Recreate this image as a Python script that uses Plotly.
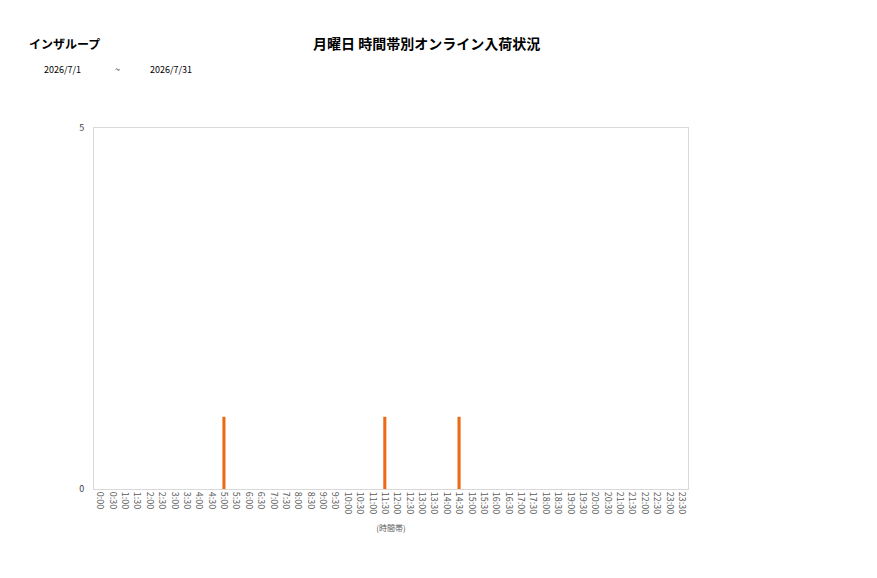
import plotly.graph_objects as go

# 時間帯 (30分刻み)
time_slots = [
    "0:00", "0:30", "1:00", "1:30", "2:00", "2:30", "3:00", "3:30",
    "4:00", "4:30", "5:00", "5:30", "6:00", "6:30", "7:00", "7:30",
    "8:00", "8:30", "9:00", "9:30", "10:00", "10:30", "11:00", "11:30",
    "12:00", "12:30", "13:00", "13:30", "14:00", "14:30", "15:00", "15:30",
    "16:00", "16:30", "17:00", "17:30", "18:00", "18:30", "19:00", "19:30",
    "20:00", "20:30", "21:00", "21:30", "22:00", "22:30", "23:00", "23:30",
]

# 入荷件数
counts = [
    0, 0, 0, 0, 0, 0, 0, 0,
    0, 0, 1, 0, 0, 0, 0, 0,
    0, 0, 0, 0, 0, 0, 0, 1,
    0, 0, 0, 0, 0, 1, 0, 0,
    0, 0, 0, 0, 0, 0, 0, 0,
    0, 0, 0, 0, 0, 0, 0, 0,
]

y_ticks = [0, 5]

font_jp = "Noto Sans CJK JP"

# page has an 8px body margin, so the figure is drawn 8px in
W, H = 869, 570
L, R, T, B = 86, 189, 120, 89

fig = go.Figure()
fig.add_trace(go.Bar(x=time_slots, y=counts, marker_color="#EC6A14",
                     marker_line_width=0, width=0.25))

fig.update_layout(
    width=W, height=H,
    margin=dict(l=L, r=R, t=T, b=B),
    paper_bgcolor="white", plot_bgcolor="white",
    font=dict(family=font_jp, color="#595959", size=9),
    showlegend=False,
)

fig.update_xaxes(
    type="category", tickangle=90, tickfont=dict(size=9, color="#595959"),
    showline=True, linecolor="#D9D9D9", linewidth=1, mirror=True,
    showgrid=False, ticks="",
    title=dict(text="(時間帯)", font=dict(size=8, color="#595959"), standoff=12),
)
fig.update_yaxes(
    range=[0, 5], tickvals=y_ticks, showgrid=False, zeroline=False,
    showline=True, linecolor="#D9D9D9", linewidth=1, mirror=True,
    tickfont=dict(size=9, color="#404040"), ticks="", ticklabelstandoff=7,
)

# タイトル類 (x, y = screenshot pixel positions)
labels = [
    ("<b>月曜日 時間帯別オンライン入荷状況</b>", 427, 43, 14, "center"),
    ("<b>インザループ</b>", 27, 43, 12, "left"),
    ("2026/7/1", 42, 70, 9, "left"),
    ("~", 113, 70, 9, "left"),
    ("2026/7/31", 148, 70, 9, "left"),
]
pw, ph = W - L - R, H - T - B
for text, px, py, size, anchor in labels:
    fig.add_annotation(
        text=text, showarrow=False, xref="paper", yref="paper",
        x=(px - 8 - L) / pw, y=(H - B - (py - 8)) / ph,
        xanchor=anchor, yanchor="middle",
        font=dict(size=size, color="#000000", family=font_jp),
    )

fig.write_html("out.html")
